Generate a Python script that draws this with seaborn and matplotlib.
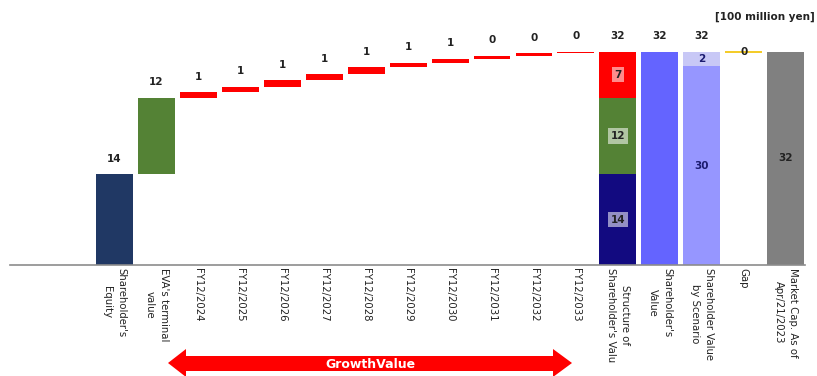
import matplotlib
matplotlib.use("Agg")
import matplotlib.pyplot as plt
from matplotlib.patches import Polygon
import seaborn as sns
import pandas as pd

# ---- data (100 million yen) ----
equity = 13.6
eva_terminal = 11.5
growth_years = ["FY12/2024", "FY12/2025", "FY12/2026", "FY12/2027", "FY12/2028",
                "FY12/2029", "FY12/2030", "FY12/2031", "FY12/2032", "FY12/2033"]
growth_eva = [0.8, 0.85, 0.95, 0.95, 1.0, 0.7, 0.6, 0.45, 0.4, 0.2]
scenario_parts = [29.8, 2.2]
market_cap = 32.0

cat_equity = "Shareholder's\nEquity"
cat_eva = "EVA's terminal\nvalue"
cat_struct = "Structure of\nShareholder's Valu"
cat_sv = "Shareholder's\nValue"
cat_scen = "Shareholder Value\nby Scenario"
cat_gap = "Gap"
cat_mcap = "Market Cap. As of\nApr/21/2023"
categories = [cat_equity, cat_eva] + growth_years + [cat_struct, cat_sv, cat_scen, cat_gap, cat_mcap]

growth_total = sum(growth_eva)
shareholder_value = equity + eva_terminal + growth_total
gap = market_cap - shareholder_value

C_EQ = "#203864"
C_GREEN = "#548235"
C_RED = "#ff0000"
C_NAVY = "#120a80"
C_SV = "#6464ff"
C_SCEN = "#9696ff"
C_SCEN_TOP = "#c8c8f6"
C_MCAP = "#808080"
C_GAP = "#f2c200"

# segments per category: (bottom, height, color)
segments = {cat_equity: [(0, equity, C_EQ)],
            cat_eva: [(equity, eva_terminal, C_GREEN)]}
base = equity + eva_terminal
for yr, v in zip(growth_years, growth_eva):
    segments[yr] = [(base, v, C_RED)]
    base += v
segments[cat_struct] = [(0, equity, C_NAVY),
                        (equity, eva_terminal, C_GREEN),
                        (equity + eva_terminal, growth_total, C_RED)]
segments[cat_sv] = [(0, shareholder_value, C_SV)]
segments[cat_scen] = [(0, scenario_parts[0], C_SCEN),
                      (scenario_parts[0], scenario_parts[1], C_SCEN_TOP)]
segments[cat_mcap] = [(0, market_cap, C_MCAP)]

# build draw layers: tallest cumulative top first, white masks under floating bars
layers = []
for cat, segs in segments.items():
    stack = [(b + h, c) for b, h, c in segs]
    lowest = min(b for b, h, c in segs)
    if lowest > 0:
        stack.append((lowest, "white"))
    stack.sort(key=lambda t: -t[0])
    for k, (top, col) in enumerate(stack):
        layers.append({"layer": k, "category": cat, "top": top, "color": col})
layers = pd.DataFrame(layers)

sns.set_theme(style="white")
plt.rcParams["font.family"] = ["DejaVu Sans"]

W, H = 817, 376
fig = plt.figure(figsize=(W / 100, H / 100), dpi=100)
ax = fig.add_axes([10 / W, 111 / H, 795 / W, 240 / H])

for k, df in layers.groupby("layer"):
    pal = dict(zip(df["category"], df["color"]))
    sns.barplot(data=df, x="category", y="top", hue="category", palette=pal,
                order=categories, hue_order=list(df["category"]), dodge=False,
                legend=False, width=0.88, saturation=1, linewidth=0, ax=ax)

gx = categories.index(cat_gap)
ax.hlines(shareholder_value + gap, gx - 0.44, gx + 0.44, color=C_GAP, lw=1.2, zorder=3)

xpos = {c: i for i, c in enumerate(categories)}
lab_kw = dict(ha="center", va="center", fontsize=7.5, fontweight="bold", color="#222222")

def top_label(cat, top, value):
    ax.annotate(f"{round(value):d}", (xpos[cat], top), xytext=(0, 11),
                textcoords="offset points", **lab_kw)

top_label(cat_equity, equity, equity)
top_label(cat_eva, equity + eva_terminal, eva_terminal)
for yr in growth_years:
    b, h, c = segments[yr][0]
    top_label(yr, b + h, h)
top_label(cat_struct, shareholder_value, shareholder_value)
top_label(cat_sv, shareholder_value, shareholder_value)
top_label(cat_scen, sum(scenario_parts), sum(scenario_parts))
ax.text(gx, shareholder_value + gap, f"{round(gap):d}", **lab_kw)

# values inside the structure bar
for b, h, c in segments[cat_struct]:
    ax.text(xpos[cat_struct], b + h / 2, f"{round(h):d}", **lab_kw,
            bbox=dict(boxstyle="square,pad=0.25", fc="white", ec="none", alpha=0.55))
ax.text(xpos[cat_scen], scenario_parts[0] / 2, f"{round(scenario_parts[0]):d}",
        **{**lab_kw, "color": "#1c1c70"})
ax.text(xpos[cat_scen], scenario_parts[0] + scenario_parts[1] / 2,
        f"{round(scenario_parts[1]):d}", **{**lab_kw, "color": "#1c1c70"})
ax.text(xpos[cat_mcap], market_cap / 2, f"{round(market_cap):d}", **lab_kw)

ax.set_xlim(-2.49, 16.46)
ax.set_ylim(0, 36)
ax.set_xlabel("")
ax.set_ylabel("")
ax.set_yticks([])
ax.set_xticks(range(len(categories)))
ax.set_xticklabels(categories, rotation=270, ha="center", va="top", fontsize=7.3,
                   linespacing=1.55, multialignment="center", color="#222222")
ax.tick_params(axis="x", length=0, pad=2)
for s in ["top", "left", "right"]:
    ax.spines[s].set_visible(False)
ax.spines["bottom"].set_color("#8c8c8c")
ax.spines["bottom"].set_linewidth(1.2)

fig.text(765 / W, 1 - 17 / H, "[100 million yen]", ha="center", va="center",
         fontsize=7.5, fontweight="bold", color="#222222")

# double-headed arrow spanning the growth years
def fp(x, y):
    return (x / W, 1 - y / H)

arrow_pts = [fp(168, 363), fp(186, 349), fp(186, 356), fp(553, 356), fp(553, 349),
             fp(572, 363), fp(553, 377), fp(553, 371), fp(186, 371), fp(186, 377)]
fig.patches.append(Polygon(arrow_pts, closed=True, transform=fig.transFigure,
                           facecolor=C_RED, edgecolor="none"))
fig.text(370 / W, 1 - 364 / H, "GrowthValue", ha="center", va="center",
         fontsize=9, fontweight="bold", color="white")

fig.savefig("out.png", dpi=100)
